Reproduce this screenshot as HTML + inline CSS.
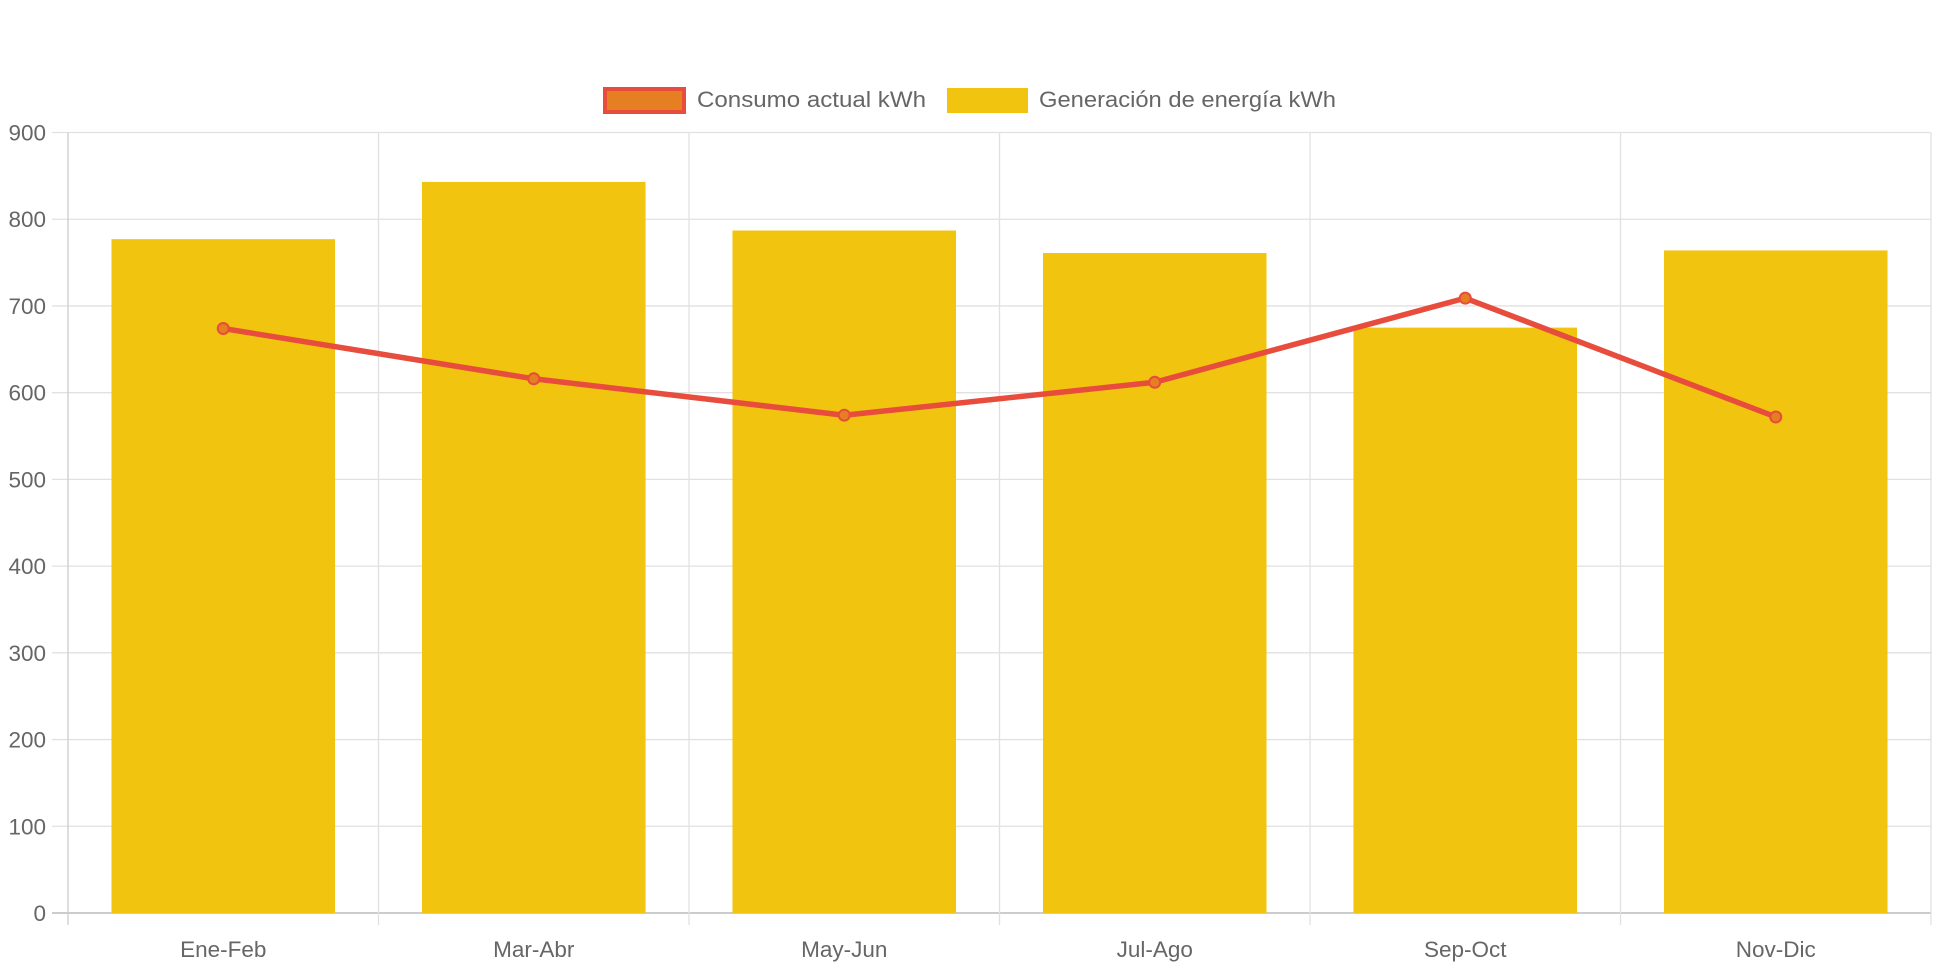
<!DOCTYPE html>
<html><head><meta charset="utf-8"><style>
body{margin:0;background:#fff;}
svg{display:block;font-family:"Liberation Sans",Arial,sans-serif;}
</style></head><body>
<svg id="chart" width="1942" height="970">
<g>
 <g>
  <rect x="605" y="89" width="79" height="23" fill="#e67e22" stroke="#e74c3c" stroke-width="4"/>
  <text x="697" y="107" font-size="22.5" fill="#666" textLength="229" lengthAdjust="spacingAndGlyphs">Consumo actual kWh</text>
 </g>
 <g>
  <rect x="947" y="88" width="81" height="25" fill="#f1c40f"/>
  <text x="1039" y="107" font-size="22.5" fill="#666" textLength="297" lengthAdjust="spacingAndGlyphs">Generación de energía kWh</text>
 </g>
</g>
<g id="grid"></g>
<g id="bars"></g>
<g id="line"></g>
<g id="labels"></g>
</svg>
<script>
const categories=["Ene-Feb","Mar-Abr","May-Jun","Jul-Ago","Sep-Oct","Nov-Dic"];
const generacion=[777,843,787,761,675,764];
const consumo=[674,616,574,612,709,572];
const yTicks=[0,100,200,300,400,500,600,700,800,900];
const NS="http://www.w3.org/2000/svg";
const L=68,R=1931,T=132.5,B=913,yMax=900;
const cw=(R-L)/categories.length;
const y=v=>B-(v/yMax)*(B-T);
const x=i=>L+cw*(i+0.5);
function mk(tag,attrs,parent){const e=document.createElementNS(NS,tag);for(const k in attrs)e.setAttribute(k,attrs[k]);document.getElementById(parent).appendChild(e);return e;}
yTicks.forEach(t=>{
 const g=mk('line',{x1:52,x2:R,y1:y(t),y2:y(t),stroke:t===0?'#ccc':'#e1e1e1','stroke-width':t===0?2:1.3},'grid');
 
 
 const tx=mk('text',{x:46,y:y(t)+8,'text-anchor':'end','font-size':22.5,fill:'#666'},'labels');
 tx.textContent=t;
 
 
});
for(let i=0;i<=categories.length;i++){
 const gx=L+cw*i;
 const g=mk('line',{x1:gx,x2:gx,y1:T,y2:B+12,stroke:i===0?'#ccc':'#e1e1e1','stroke-width':1.3},'grid');
 
 
}
const bw=cw*0.72;
generacion.forEach((v,i)=>{
 const r=mk('rect',{x:x(i)-bw/2,y:y(v),width:bw,height:B-y(v),fill:'#f1c40f'},'bars');
 
 
});
categories.forEach((c,i)=>{
 const tx=mk('text',{x:x(i),y:957,'text-anchor':'middle','font-size':22.5,fill:'#666'},'labels');
 tx.textContent=c;
 
 
});
const pl=mk('polyline',{points:consumo.map((v,i)=>x(i)+','+y(v)).join(' '),fill:'none',stroke:'#e74c3c','stroke-width':5.5,'stroke-linejoin':'round'},'line');


consumo.forEach((v,i)=>{
 const c=mk('circle',{cx:x(i),cy:y(v),r:5.5,fill:'#e67e22',stroke:'#e74c3c','stroke-width':2},'line');
 
 
});
</script>
</body></html>
